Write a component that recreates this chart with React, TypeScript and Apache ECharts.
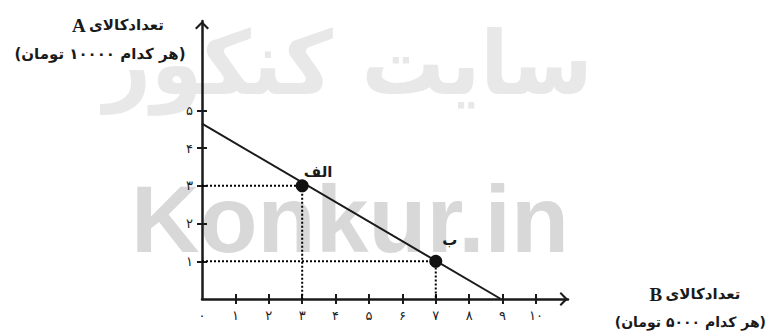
import React, { useEffect, useRef } from "react";
import * as echarts from "echarts";

// ---- data ----
const xTickValues = [0, 1, 2, 3, 4, 5, 6, 7, 8, 9, 10];
const xTickLabels = ["۰", "۱", "۲", "۳", "۴", "۵", "۶", "۷", "۸", "۹", "۱۰"];
const xTickMarks = [1, 2, 3, 4, 5, 6, 7, 8, 9, 10];
const yTickValues = [1, 2, 3, 4, 5];
const yTickLabels = ["۱", "۲", "۳", "۴", "۵"];
const ppfLine = [
  [0, 4.65],
  [8.95, 0],
];
const guideA = [
  [0, 3],
  [3, 3],
  [3, 0],
];
const guideB = [
  [0, 1],
  [7, 1],
  [7, 0],
];
const pointValues = [
  [3, 3],
  [7, 1],
];
const pointNames = ["الف", "ب"];
const yTitle1 = "تعدادکالای";
const yTitleLetter = "A";
const yTitle2 = "(هر کدام ۱۰۰۰۰ تومان)";
const xTitle1 = "تعدادکالای";
const xTitleLetter = "B";
const xTitle2 = "(هر کدام ۵۰۰۰ تومان)";
const watermark1 = "سایت کنکور";
const watermark2 = "Konkur.in";

const X_MAX = 10.96;
const Y_MAX = 7.37;
const INK = "#1a1a1a";
const AR = "'DejaVu Sans', sans-serif";

const arrowPath =
  "path://M5,0L5.05,0.05L4.95,0.05Z M0,11L5,6L10,11L8.9,12L5,8.2L1.1,12Z";

export default function App() {
  const ref = useRef<HTMLDivElement>(null);
  useEffect(() => {
    if (!ref.current) return;
    const chart = echarts.init(ref.current, null, { renderer: "svg" });
    const axisCommon = {
      type: "value" as const,
      splitLine: { show: false },
    };
    chart.setOption({
      animation: false,
      backgroundColor: "#ffffff",
      grid: { left: 202, right: 199, top: 21, bottom: 35, containLabel: false },
      xAxis: [
        {
          ...axisCommon,
          min: 0,
          max: X_MAX,
          position: "bottom",
          axisLine: {
            show: true,
            onZero: false,
            lineStyle: { color: INK, width: 2.5 },
            symbol: ["none", arrowPath],
            symbolSize: [14, 26],
          },
          axisTick: {
            show: true,
            inside: false,
            length: 5,
            customValues: xTickMarks,
            lineStyle: { color: INK, width: 2 },
          },
          axisLabel: {
            show: true,
            customValues: xTickValues,
            margin: 10,
            fontFamily: AR,
            fontSize: 13,
            color: "#222",
            formatter: (v: number) => xTickLabels[xTickValues.indexOf(v)] ?? "",
          },
        },
        {
          ...axisCommon,
          min: 0,
          max: X_MAX,
          position: "bottom",
          axisLine: { show: false, onZero: false },
          axisTick: {
            show: true,
            inside: true,
            length: 5,
            customValues: xTickMarks,
            lineStyle: { color: INK, width: 2 },
          },
          axisLabel: { show: false },
        },
      ],
      yAxis: [
        {
          ...axisCommon,
          min: 0,
          max: Y_MAX,
          position: "left",
          axisLine: {
            show: true,
            onZero: false,
            lineStyle: { color: INK, width: 2.5 },
            symbol: ["none", arrowPath],
            symbolSize: [14, 26],
          },
          axisTick: {
            show: true,
            inside: false,
            length: 5,
            customValues: yTickValues,
            lineStyle: { color: INK, width: 2 },
          },
          axisLabel: {
            show: true,
            customValues: yTickValues,
            margin: 9,
            fontFamily: AR,
            fontSize: 13,
            color: "#222",
            formatter: (v: number) => yTickLabels[yTickValues.indexOf(v)] ?? "",
          },
        },
        {
          ...axisCommon,
          min: 0,
          max: Y_MAX,
          position: "left",
          axisLine: { show: false, onZero: false },
          axisTick: {
            show: true,
            inside: true,
            length: 5,
            customValues: yTickValues,
            lineStyle: { color: INK, width: 2 },
          },
          axisLabel: { show: false },
        },
      ],
      graphic: [
        {
          type: "text",
          z: -10,
          x: 348,
          y: 64,
          scaleX: 0.94,
          style: {
            text: watermark1,
            font: `bold 88px ${AR}`,
            fill: "#e8e8e8",
            align: "center",
            verticalAlign: "middle",
          },
        },
        {
          type: "text",
          z: -10,
          x: 350,
          y: 219,
          style: {
            text: watermark2,
            font: `bold 95px 'Liberation Sans', Arial, sans-serif`,
            fill: "#d8d8d8",
            align: "center",
            verticalAlign: "middle",
          },
        },
        {
          type: "text",
          x: 118,
          y: 25,
          style: {
            text: `{a|${yTitleLetter}} {b|${yTitle1}}`,
            align: "center",
            verticalAlign: "middle",
            rich: {
              a: { font: "bold 19px 'Liberation Serif', serif", fill: INK },
              b: { font: `bold 15px ${AR}`, fill: INK },
            },
          },
        },
        {
          type: "text",
          x: 100,
          y: 54,
          style: {
            text: yTitle2,
            font: `bold 15px ${AR}`,
            fill: INK,
            align: "center",
            verticalAlign: "middle",
          },
        },
        {
          type: "text",
          x: 695,
          y: 294,
          style: {
            text: `{a|${xTitleLetter}} {b|${xTitle1}}`,
            align: "center",
            verticalAlign: "middle",
            rich: {
              a: { font: "bold 19px 'Liberation Serif', serif", fill: INK },
              b: { font: `bold 15px ${AR}`, fill: INK },
            },
          },
        },
        {
          type: "text",
          x: 766,
          y: 322,
          style: {
            text: xTitle2,
            font: `bold 14px ${AR}`,
            fill: INK,
            align: "right",
            verticalAlign: "middle",
          },
        },
      ],
      series: [
        {
          type: "line",
          xAxisIndex: 0,
          yAxisIndex: 0,
          data: guideA,
          symbol: "none",
          lineStyle: { color: "#000", width: 2, type: [2, 2] },
          z: 2,
        },
        {
          type: "line",
          xAxisIndex: 0,
          yAxisIndex: 0,
          data: guideB,
          symbol: "none",
          lineStyle: { color: "#000", width: 2, type: [2, 2] },
          z: 2,
        },
        {
          type: "line",
          xAxisIndex: 0,
          yAxisIndex: 0,
          data: ppfLine,
          symbol: "none",
          lineStyle: { color: INK, width: 2 },
          z: 3,
        },
        {
          type: "scatter",
          xAxisIndex: 0,
          yAxisIndex: 0,
          symbolSize: 13,
          itemStyle: { color: "#111", opacity: 1 },
          z: 4,
          data: pointValues.map((v, i) => ({
            value: v,
            label: {
              show: true,
              position: "inside",
              offset: i === 0 ? [16, -14] : [14, -21],
              formatter: pointNames[i],
              fontFamily: AR,
              fontWeight: "bold",
              fontSize: 15,
              color: INK,
            },
          })),
        },
      ],
    });
    return () => chart.dispose();
  }, []);
  return (
    <div
      ref={ref}
      style={{ position: "fixed", left: 0, top: 0, width: 767, height: 334 }}
    />
  );
}
